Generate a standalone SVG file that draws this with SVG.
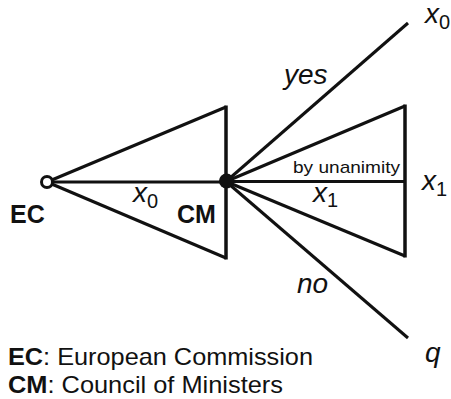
<svg xmlns="http://www.w3.org/2000/svg" width="451" height="399" viewBox="0 0 451 399">
<style>
text{font-family:"Liberation Sans",Arial,Helvetica,sans-serif;fill:#111}
.e{stroke:#111;stroke-width:3;fill:none;stroke-linecap:butt}
.v{stroke:#111;stroke-width:3.5;fill:none}
.it{font-style:italic;font-size:28px}
.sub{font-style:normal;font-size:20px}
.b{font-weight:bold;font-size:25px}
.lg{font-size:24px}
.sm{font-size:17px}
</style>
<rect width="451" height="399" fill="#fff"/>
<g id="connectors">
<line class="e" x1="47" y1="182" x2="226" y2="107"/>
<line class="e" x1="47" y1="182" x2="226" y2="258"/>
<line class="e" x1="47" y1="182" x2="226" y2="182"/>
<line class="v" x1="226" y1="105.5" x2="226" y2="259.5"/>
<line class="e" x1="226" y1="181.5" x2="408" y2="23"/>
<line class="e" x1="226" y1="181.5" x2="405" y2="106"/>
<line class="e" x1="226" y1="181.5" x2="405" y2="181.5"/>
<line class="e" x1="226" y1="181.5" x2="405" y2="256"/>
<line class="v" x1="405" y1="104.5" x2="405" y2="257.5"/>
<line class="e" x1="226" y1="181.5" x2="408" y2="338"/>
</g>
<g id="edge-labels">
<text class="it" x="133" y="202">x<tspan class="sub" dy="6">0</tspan></text>
<text class="it" x="284" y="84">yes</text>
<text class="sm" x="293" y="173" textLength="107" lengthAdjust="spacingAndGlyphs">by unanimity</text>
<text class="it" x="313" y="202">x<tspan class="sub" dy="5">1</tspan></text>
<text class="it" x="297" y="293">no</text>
</g>
<g id="EC">
<circle cx="47" cy="182" r="5.5" fill="#fff" stroke="#111" stroke-width="3"/>
<text class="b" x="10" y="223">EC</text>
</g>
<g id="CM">
<circle cx="226.5" cy="181" r="7.5" fill="#111"/>
<text class="b" x="177" y="223">CM</text>
</g>
<g id="leaf-x0">
<text class="it" x="425" y="23">x<tspan class="sub" dy="6">0</tspan></text>
</g>
<g id="leaf-x1">
<text class="it" x="422" y="190">x<tspan class="sub" dy="6">1</tspan></text>
</g>
<g id="leaf-q">
<text class="it" x="425" y="362" font-size="29">q</text>
</g>
<g id="legend">
<text class="lg" x="8" y="365" textLength="305" lengthAdjust="spacingAndGlyphs"><tspan font-weight="bold">EC</tspan>: European Commission</text>
<text class="lg" x="8" y="393" textLength="275" lengthAdjust="spacingAndGlyphs"><tspan font-weight="bold">CM</tspan>: Council of Ministers</text>
</g>
</svg>
